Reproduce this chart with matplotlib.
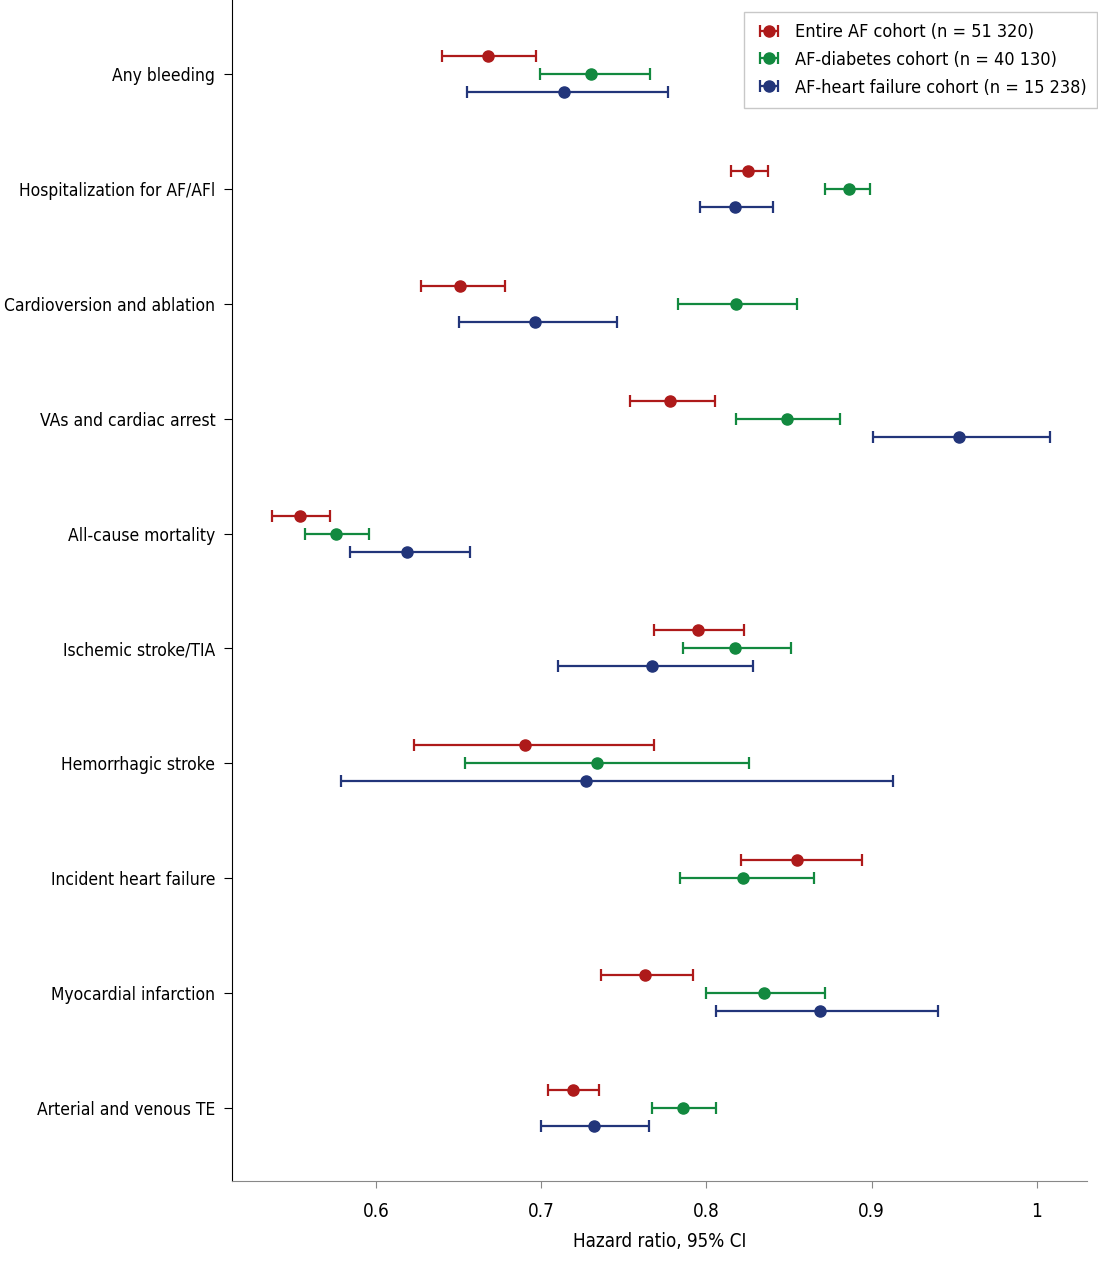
import matplotlib
matplotlib.use("Agg")
import matplotlib.pyplot as plt
import numpy as np

plt.rcParams['font.family'] = ['DejaVu Sans']
plt.rcParams['font.stretch'] = 'condensed'

outcomes = ["Any bleeding", "Hospitalization for AF/AFl", "Cardioversion and ablation",
            "VAs and cardiac arrest", "All-cause mortality", "Ischemic stroke/TIA",
            "Hemorrhagic stroke", "Incident heart failure", "Myocardial infarction",
            "Arterial and venous TE"]

# hazard ratios and 95% CI (nan = not shown)
entire_hr = [0.668, 0.825, 0.651, 0.778, 0.554, 0.795, 0.690, 0.855, 0.763, 0.719]
entire_lo = [0.640, 0.815, 0.627, 0.754, 0.537, 0.768, 0.623, 0.821, 0.736, 0.704]
entire_hi = [0.697, 0.837, 0.678, 0.805, 0.572, 0.823, 0.768, 0.894, 0.792, 0.735]

diab_hr = [0.730, 0.886, 0.818, 0.849, 0.576, 0.817, 0.734, 0.822, 0.835, 0.786]
diab_lo = [0.699, 0.872, 0.783, 0.818, 0.557, 0.786, 0.654, 0.784, 0.800, 0.767]
diab_hi = [0.766, 0.899, 0.855, 0.881, 0.596, 0.851, 0.826, 0.865, 0.872, 0.806]

hf_hr = [0.714, 0.817, 0.696, 0.953, 0.619, 0.767, 0.727, np.nan, 0.869, 0.732]
hf_lo = [0.655, 0.796, 0.650, 0.901, 0.584, 0.710, 0.579, np.nan, 0.806, 0.700]
hf_hi = [0.777, 0.840, 0.746, 1.008, 0.657, 0.828, 0.913, np.nan, 0.940, 0.765]

labels = ["Entire AF cohort (n = 51 320)", "AF-diabetes cohort (n = 40 130)",
          "AF-heart failure cohort (n = 15 238)"]
colors = ["#ae1a1a", "#12893f", "#22357a"]

fig = plt.figure(figsize=(10.98, 12.64), dpi=100)
ax = fig.add_axes([0.2113, 0.0657, 0.7787, 0.9343])

ypos = np.arange(len(outcomes))
offsets = [-0.157, 0.0, 0.157]
series = [(entire_hr, entire_lo, entire_hi), (diab_hr, diab_lo, diab_hi), (hf_hr, hf_lo, hf_hi)]
for (hr, lo, hi), off, c, lab in zip(series, offsets, colors, labels):
    hr = np.array(hr); lo = np.array(lo); hi = np.array(hi)
    ax.errorbar(hr, ypos + off, xerr=[hr - lo, hi - hr], fmt='o', color=c,
                ecolor=c, elinewidth=1.6, capsize=4.5, capthick=1.6,
                markersize=8, label=lab)

ax.set_yticks(ypos)
ax.set_yticklabels(outcomes, fontsize=12.5)
ax.set_ylim(9.635, -0.644)
ax.set_xlim(0.5129, 1.0303)
ax.set_xticks([0.6, 0.7, 0.8, 0.9, 1.0])
ax.set_xticklabels(["0.6", "0.7", "0.8", "0.9", "1"], fontsize=13.5)
ax.set_xlabel("Hazard ratio, 95% CI", fontsize=13.5, labelpad=8)
ax.tick_params(axis='y', length=6, pad=6)
ax.tick_params(axis='x', length=5, pad=10, color='#888888')
ax.spines['top'].set_visible(False)
ax.spines['right'].set_visible(False)
ax.spines['bottom'].set_color('#888888')

leg = ax.legend(loc='upper right', fontsize=13, frameon=True, fancybox=False,
                edgecolor='#bbbbbb', handlelength=1.6, handletextpad=0.6,
                borderpad=0.6, labelspacing=0.55, borderaxespad=0,
                bbox_to_anchor=(1.0117, 0.9898))
leg.set_clip_on(False)

fig.savefig("out.png", dpi=100)
